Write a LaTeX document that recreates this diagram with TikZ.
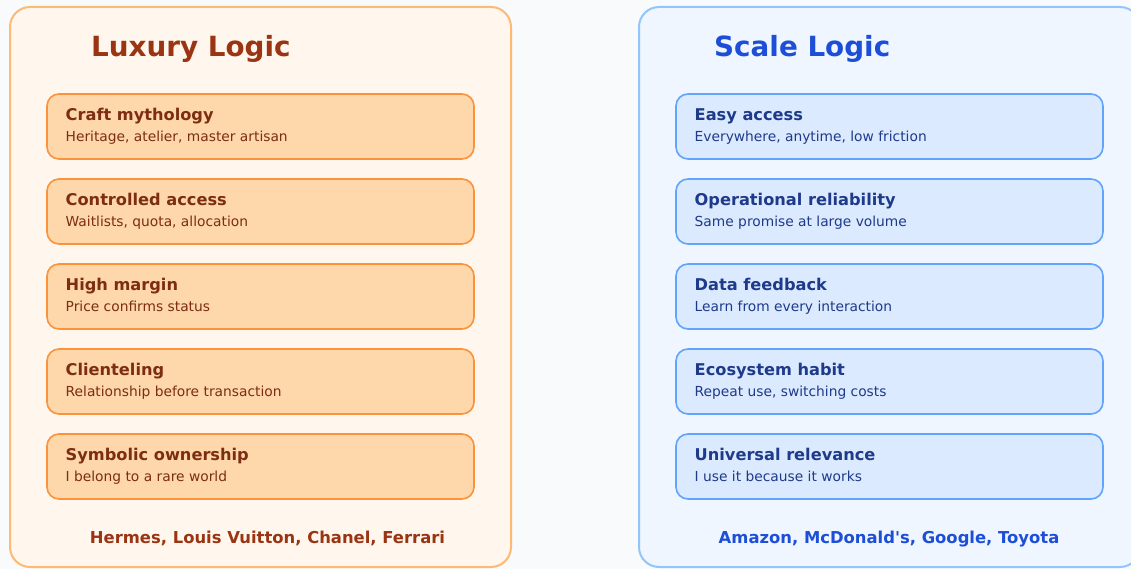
\documentclass[tikz,border=0pt]{standalone}
\usepackage{fontspec}
\setmainfont{DejaVu Sans}[Ligatures=TeXOff]
\definecolor{bgc}{HTML}{F8FAFC}
\definecolor{lpanelfill}{HTML}{FFF7ED}
\definecolor{lpanelline}{HTML}{FDBA74}
\definecolor{lboxfill}{HTML}{FED7AA}
\definecolor{lboxline}{HTML}{FB923C}
\definecolor{ltitle}{HTML}{9A3412}
\definecolor{ltext}{HTML}{7C2D12}
\definecolor{rpanelfill}{HTML}{EFF6FF}
\definecolor{rpanelline}{HTML}{93C5FD}
\definecolor{rboxfill}{HTML}{DBEAFE}
\definecolor{rboxline}{HTML}{60A5FA}
\definecolor{rtitle}{HTML}{1D4ED8}
\definecolor{rtext}{HTML}{1E3A8A}
\tikzset{
  panel/.style={rectangle, rounded corners=20pt, line width=2pt, anchor=north west,
    minimum width=501pt, minimum height=560pt, inner sep=0pt, outer sep=0pt},
  itembox/.style={rectangle, rounded corners=12pt, line width=1.6pt, anchor=north west,
    minimum width=427pt, minimum height=65pt, inner sep=0pt, outer sep=0pt},
  headtxt/.style={anchor=base west, inner sep=0pt, font=\fontsize{27.8}{34}\selectfont\bfseries},
  itemhead/.style={anchor=base west, inner sep=0pt, font=\fontsize{16.2}{19}\selectfont\bfseries},
  itemsub/.style={anchor=base west, inner sep=0pt, font=\fontsize{13.8}{16}\selectfont},
  foottxt/.style={anchor=base, inner sep=0pt, font=\fontsize{16.4}{19}\selectfont\bfseries},
}
\begin{document}
\begin{tikzpicture}[x=1pt,y=-1pt]
\useasboundingbox (0,0) rectangle (1131,569);
\fill[bgc] (0,0) rectangle (1131,569);
\begin{scope}
\clip (0,0) rectangle (1131,569);
\node[panel, draw=lpanelline, fill=lpanelfill] (lpanel) at (10,7) {};
\node[panel, draw=rpanelline, fill=rpanelfill] (rpanel) at (639,7) {};
\end{scope}
\node[headtxt, text=ltitle] (ltitle) at (91,57) {Luxury Logic};
\node[headtxt, text=rtitle] (rtitle) at (714,57) {Scale Logic};
\foreach \i/\h/\s [count=\k from 0] in {
  1/Craft mythology/{Heritage, atelier, master artisan},
  2/Controlled access/{Waitlists, quota, allocation},
  3/High margin/Price confirms status,
  4/Clienteling/Relationship before transaction,
  5/Symbolic ownership/I belong to a rare world}{
  \node[itembox, draw=lboxline, fill=lboxfill] (lbox\i) at (47,94+85*\k) {};
  \node[itemhead, text=ltext] (lhead\i) at (65.5,120.7+85*\k) {\h};
  \node[itemsub, text=ltext] (lsub\i) at (65.5,141.7+85*\k) {\s};
}
\foreach \i/\h/\s [count=\k from 0] in {
  1/Easy access/{Everywhere, anytime, low friction},
  2/Operational reliability/Same promise at large volume,
  3/Data feedback/Learn from every interaction,
  4/Ecosystem habit/{Repeat use, switching costs},
  5/Universal relevance/I use it because it works}{
  \node[itembox, draw=rboxline, fill=rboxfill] (rbox\i) at (676,94+85*\k) {};
  \node[itemhead, text=rtext] (rhead\i) at (694.5,120.7+85*\k) {\h};
  \node[itemsub, text=rtext] (rsub\i) at (694.5,141.7+85*\k) {\s};
}
\node[foottxt, text=ltitle] (lfoot) at (267.5,543.3) {Hermes, Louis Vuitton, Chanel, Ferrari};
\node[foottxt, text=rtitle] (rfoot) at (889,543.3) {Amazon, McDonald's, Google, Toyota};
\end{tikzpicture}
\end{document}
